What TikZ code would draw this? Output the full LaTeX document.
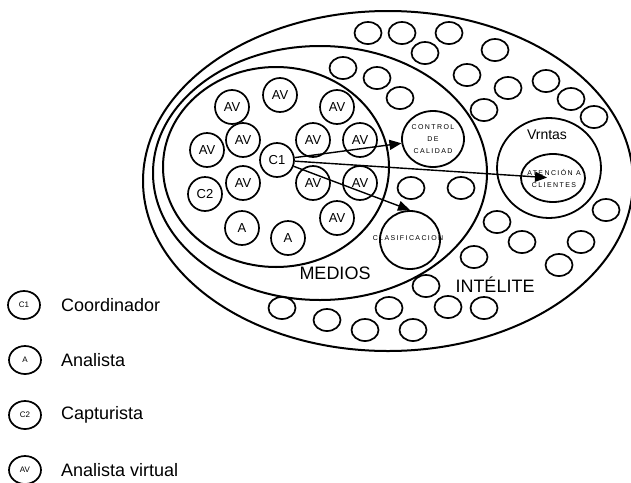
\documentclass[tikz,border=0pt]{standalone}
\usepackage{fontspec}
\setmainfont{Liberation Sans}
\newfontfamily\spaced[LetterSpace=20]{Liberation Sans}
\usetikzlibrary{shapes.geometric, arrows.meta, positioning}

\begin{document}
\begin{tikzpicture}[
    x=1pt, y=-1pt,
    every node/.style={font=\fontsize{13}{15}\selectfont},
    area/.style={draw, ellipse, line width=2pt, inner sep=0pt},
    member/.style={draw, circle, line width=1.7pt, minimum size=34pt, inner sep=0pt},
    seat/.style={draw, ellipse, line width=1.7pt, minimum width=27pt, minimum height=22pt, inner sep=0pt},
    unit/.style={draw, ellipse, line width=1.8pt, inner sep=0pt},
    small/.style={font={\spaced\fontsize{7}{12}\selectfont}, align=center, inner sep=0pt},
    big/.style={font=\fontsize{18}{20}\selectfont, inner sep=0pt},
    key/.style={draw, ellipse, line width=1.7pt, minimum width=32pt, minimum height=28pt, inner sep=0pt, font=\fontsize{8}{9}\selectfont},
    arrow/.style={-{Triangle[length=12pt,width=10pt]}, line width=1.4pt},
]
\useasboundingbox (0,0) rectangle (631,482);
\node[area, minimum width=490pt, minimum height=340pt] (intelite) at (388,181) {};
\node[area, minimum width=334pt, minimum height=254pt] (org) at (320,173) {};
\node[area, minimum width=226pt, minimum height=200pt] (medios) at (276,167) {};
\node[member] (av1) at (232,107) {AV};
\node[member] (av2) at (280,95) {AV};
\node[member] (av3) at (337,107) {AV};
\node[member] (av4) at (243,140) {AV};
\node[member] (av5) at (207,150) {AV};
\node[member] (av6) at (313,140) {AV};
\node[member] (av7) at (360,140) {AV};
\node[member] (c1) at (277,160) {C1};
\node[member] (av8) at (243,183) {AV};
\node[member] (c2) at (205,194) {C2};
\node[member] (av9) at (313,183) {AV};
\node[member] (av10) at (360,183) {AV};
\node[member] (av11) at (337,218) {AV};
\node[member] (a1) at (242,228) {A};
\node[member] (a2) at (288,238) {A};
\node[unit, minimum width=62pt, minimum height=56pt] (calidad) at (433,139) {};
\node[small] (calidad-text) at (calidad) {CONTROL\\DE\\CALIDAD};
\node[unit, minimum width=60pt, minimum height=58pt] (clasif) at (410,240) {};
\node[small] (clasif-text) at (408,238) {CLASIFICACION};
\node[unit, minimum width=104pt, minimum height=100pt] (ventas) at (549,168) {};
\node[font=\fontsize{14}{16}\selectfont, inner sep=0pt] (ventas-text) at (547,135) {Vrntas};
\node[unit, minimum width=64pt, minimum height=48pt] (atencion) at (553,178) {};
\node[small] (atencion-text) at (554,178) {ATENCIÓN A\\CLIENTES};
\foreach \p [count=\i] in {(368,33), (402,33), (449,33), (425,53), (495,50), (343,68),
    (377,78), (467,75), (508,88), (546,81), (400,98), (484,110), (571,99), (594,117),
    (411,188), (461,188), (606,210), (497,222), (522,242), (581,242), (474,257),
    (559,265), (426,286), (282,308), (389,308), (448,307), (484,308), (327,320),
    (365,330), (413,330)}
    \node[seat] (s\i) at \p {};
\node[big] (medios-label) at (335,273) {MEDIOS};
\node[big] (intelite-label) at (495,285) {INTÉLITE};
\draw[arrow] (c1) -- (calidad);
\draw[arrow] (c1) -- (clasif.north);
\draw[arrow, shorten >=6pt] (c1) -- (atencion.center);
\node[key] (kc1) at (24,305) {C1};
\node[big, right=20pt of kc1] (kc1-text) {Coordinador};
\node[key] (ka) at (25,360) {A};
\node[big, right=19pt of ka] (ka-text) {Analista};
\node[key] (kc2) at (25,415) {C2};
\node[big, right=19pt of kc2] (kc2-text) {Capturista};
\node[key] (kav) at (25,470) {AV};
\node[big, right=19pt of kav] (kav-text) {Analista virtual};
\end{tikzpicture}
\end{document}
